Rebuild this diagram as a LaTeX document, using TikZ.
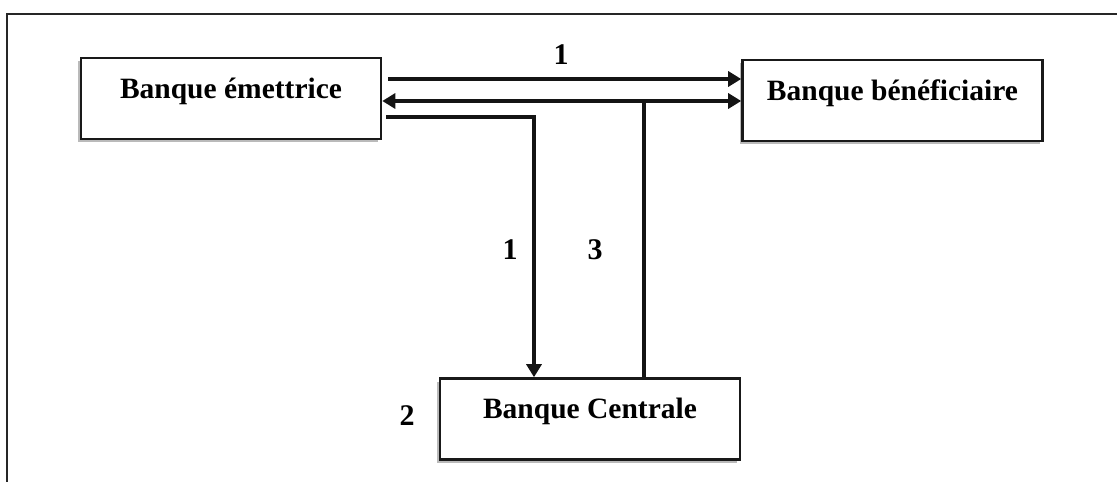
\documentclass[tikz,border=0pt]{standalone}
\usepackage{fontspec}
\setmainfont{Liberation Serif}
\usetikzlibrary{arrows.meta,shadows}
\begin{document}
\begin{tikzpicture}[x=1pt,y=-1pt,
  bank/.style={draw=black!90, line width=2.6pt, fill=white, inner sep=0pt,
    minimum width=300pt, text height=40pt, text depth=41pt,
    font=\bfseries\fontsize{29.5}{34}\selectfont,
    drop shadow={shadow xshift=-3pt, shadow yshift=-3pt, opacity=0.45, fill=black!60}},
  num/.style={font=\bfseries\fontsize{30}{34}\selectfont, inner sep=0pt},
  conn/.style={line width=3.2pt, black!92},
  arr/.style={conn, -{Triangle[length=13pt,width=15pt]}},
  darr/.style={conn, {Triangle[length=13pt,width=15pt]}-{Triangle[length=13pt,width=15pt]}}]
\useasboundingbox (0,0) rectangle (1117,482);
\fill[white] (0,0) rectangle (1117,482);
% open frame (top and left)
\draw[line width=2.8pt, black!85] (1117,14) -- (7,14) -- (7,482);
% boxes
\node[bank] (emet) at (231,98.5) {Banque émettrice};
\node[bank] (benef) at (892.5,100.5) {Banque bénéficiaire};
\node[bank] (centr) at (590,419) {Banque Centrale};
% connectors
\draw[arr] ([xshift=6pt,yshift=19.5pt]emet.east) coordinate (a1s) -- (a1s -| benef.west);
\draw[darr] ([yshift=-2.5pt]emet.east) coordinate (a2s) -- (a2s -| benef.west);
\draw[arr] ([xshift=4pt,yshift=-18.5pt]emet.east) -| ([xshift=-56pt]centr.north);
\draw[conn] ([xshift=54pt]centr.north) coordinate (c3) -- (c3 |- a2s);
% labels
\node[num] (l1a) at (561,55) {1};
\node[num] (l1b) at (510,250) {1};
\node[num] (l3) at (595,250) {3};
\node[num] (l2) at (407,416) {2};
\end{tikzpicture}
\end{document}
